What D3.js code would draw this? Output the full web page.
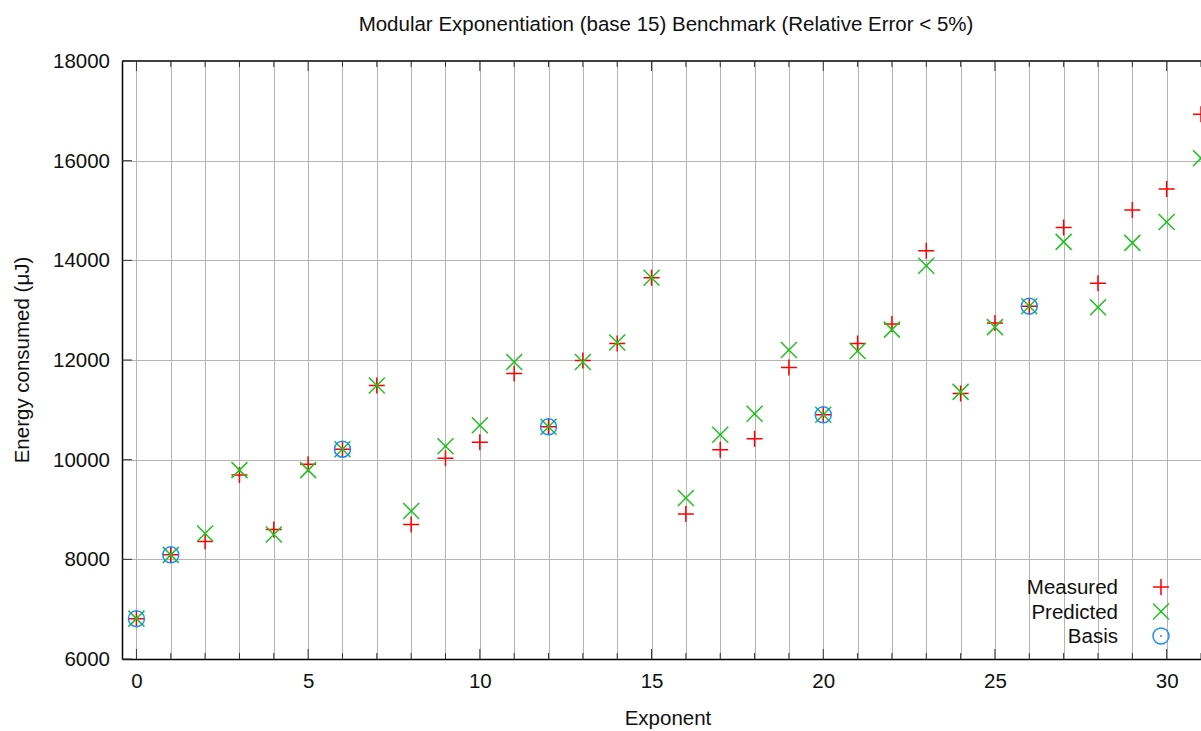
<!DOCTYPE html>
<html>
<head>
<meta charset="utf-8">
<script src="https://cdn.jsdelivr.net/npm/d3@7"></script>
<style>
  body { margin: 0; background: #fff; }
  svg { display: block; font-family: "Liberation Sans", Arial, sans-serif; }
</style>
</head>
<body>
<svg id="chart"></svg>
<script>
// values
var exponents = d3.range(0, 32);
var measured = [6810, 8090, 8360, 9690, 8600, 9910, 10210, 11490, 8700, 10030,
                10350, 11730, 10660, 11990, 12330, 13650, 8910, 10200, 10420, 11850,
                10900, 12330, 12720, 14190, 11330, 12740, 13080, 14660, 13540, 15010,
                15430, 16930];
var predicted = [6810, 8090, 8520, 9790, 8500, 9790, 10210, 11490, 8970, 10270,
                 10690, 11960, 10660, 11960, 12350, 13650, 9230, 10500, 10920, 12200,
                 10900, 12180, 12610, 13890, 11360, 12660, 13080, 14370, 13060, 14350,
                 14770, 16050];
var basisExp = [0, 1, 6, 12, 20, 26];
var yTicks = [6000, 8000, 10000, 12000, 14000, 16000, 18000];
var xTicks = [0, 5, 10, 15, 20, 25, 30];

var width = 1201, height = 731;
var margin = {top: 61, right: 0, bottom: 72, left: 122};
var fs = 20.5;

var svg = d3.select("#chart")
    .attr("width", width)
    .attr("height", height);

var x = d3.scaleLinear()
    .domain([-0.42, 31])
    .range([margin.left, width - margin.right]);

var y = d3.scaleLinear()
    .domain([6000, 18000])
    .range([height - margin.bottom, margin.top]);

var plot = svg.append("g");

// grid
plot.selectAll(".vgrid")
    .data(exponents).enter()
    .append("line")
    .attr("x1", function(d) { return Math.round(x(d)) + 0.5; })
    .attr("x2", function(d) { return Math.round(x(d)) + 0.5; })
    .attr("y1", y(6000))
    .attr("y2", y(18000))
    .attr("stroke", "#b4b4b4")
    .attr("stroke-width", 1);

plot.selectAll(".hgrid")
    .data(yTicks.slice(1, -1)).enter()
    .append("line")
    .attr("x1", x.range()[0])
    .attr("x2", x.range()[1])
    .attr("y1", function(d) { return Math.round(y(d)) + 0.5; })
    .attr("y2", function(d) { return Math.round(y(d)) + 0.5; })
    .attr("stroke", "#b4b4b4")
    .attr("stroke-width", 1);

// axes (gnuplot style: inward ticks)
var xAxisBottom = d3.axisBottom(x).tickValues(xTicks).tickSize(0).tickPadding(14)
    .tickFormat(d3.format("d"));
svg.append("g")
    .attr("transform", "translate(0," + y(6000) + ")")
    .call(xAxisBottom)
    .call(function(g) {
      g.select(".domain").attr("stroke", "#000").attr("stroke-width", 1.5);
      g.selectAll("text").attr("font-size", fs).attr("fill", "#111")
        .attr("font-family", "Liberation Sans, Arial, sans-serif");
    });

svg.append("line")
    .attr("x1", x.range()[0]).attr("x2", x.range()[1])
    .attr("y1", y(18000)).attr("y2", y(18000))
    .attr("stroke", "#000").attr("stroke-width", 1.5);

var yAxis = d3.axisLeft(y).tickValues(yTicks).tickSize(0).tickPadding(12)
    .tickFormat(d3.format("d"));
svg.append("g")
    .attr("transform", "translate(" + x.range()[0] + ",0)")
    .call(yAxis)
    .call(function(g) {
      g.select(".domain").attr("stroke", "#000").attr("stroke-width", 1.5);
      g.selectAll("text").attr("font-size", fs).attr("fill", "#111")
        .attr("font-family", "Liberation Sans, Arial, sans-serif");
    });

// tick marks
svg.selectAll(".xtick")
    .data(exponents).enter()
    .append("line")
    .attr("x1", function(d) { return x(d); })
    .attr("x2", function(d) { return x(d); })
    .attr("y1", y(6000))
    .attr("y2", function(d) { return y(6000) - (d % 5 === 0 ? 10 : 6); })
    .attr("stroke", "#333").attr("stroke-width", 1);
svg.selectAll(".xtick2")
    .data(exponents).enter()
    .append("line")
    .attr("x1", function(d) { return x(d); })
    .attr("x2", function(d) { return x(d); })
    .attr("y1", y(18000))
    .attr("y2", function(d) { return y(18000) + (d % 5 === 0 ? 10 : 6); })
    .attr("stroke", "#333").attr("stroke-width", 1);
svg.selectAll(".ytick")
    .data(yTicks).enter()
    .append("line")
    .attr("x1", x.range()[0])
    .attr("x2", x.range()[0] + 10)
    .attr("y1", function(d) { return y(d); })
    .attr("y2", function(d) { return y(d); })
    .attr("stroke", "#333").attr("stroke-width", 1);

// symbols
var red = "#ff0000", green = "#1fc21f", blue = "#1e8cff";
var s = 8;

function plus(g, cx, cy) {
  g.append("path")
    .attr("d", "M" + (cx - s) + "," + cy + "H" + (cx + s) + "M" + cx + "," + (cy - s) + "V" + (cy + s))
    .attr("stroke", red).attr("stroke-width", 1.5).attr("fill", "none");
}
function cross(g, cx, cy) {
  g.append("path")
    .attr("d", "M" + (cx - s) + "," + (cy - s) + "L" + (cx + s) + "," + (cy + s) +
               "M" + (cx - s) + "," + (cy + s) + "L" + (cx + s) + "," + (cy - s))
    .attr("stroke", green).attr("stroke-width", 1.5).attr("fill", "none");
  g.append("circle").attr("cx", cx).attr("cy", cy).attr("r", 1.2).attr("fill", green);
}
function ring(g, cx, cy) {
  g.append("circle").attr("cx", cx).attr("cy", cy).attr("r", s)
    .attr("stroke", blue).attr("stroke-width", 1.5).attr("fill", "none");
  g.append("circle").attr("cx", cx).attr("cy", cy).attr("r", 1).attr("fill", blue);
}

var marks = svg.append("g");
exponents.forEach(function(e, i) { plus(marks, x(e), y(measured[i])); });
exponents.forEach(function(e, i) { cross(marks, x(e), y(predicted[i])); });
basisExp.forEach(function(e) { ring(marks, x(e), y(measured[e])); });

// legend
var legendItems = [["Measured", plus], ["Predicted", cross], ["Basis", ring]];
var legend = svg.append("g");
legendItems.forEach(function(item, i) {
  var ly = 587 + i * 24.5;
  legend.append("text")
    .attr("x", 1118).attr("y", ly)
    .attr("dy", "0.35em")
    .attr("text-anchor", "end")
    .attr("font-size", fs).attr("fill", "#111")
    .text(item[0]);
  item[1](legend, 1161, ly);
});

// titles
svg.append("text")
    .attr("x", 666).attr("y", 31)
    .attr("text-anchor", "middle")
    .attr("font-size", fs).attr("fill", "#111")
    .text("Modular Exponentiation (base 15) Benchmark (Relative Error < 5%)");

svg.append("text")
    .attr("x", 668).attr("y", 725)
    .attr("text-anchor", "middle")
    .attr("font-size", fs).attr("fill", "#111")
    .text("Exponent");

svg.append("text")
    .attr("transform", "translate(29,360) rotate(-90)")
    .attr("text-anchor", "middle")
    .attr("font-size", fs).attr("fill", "#111")
    .text("Energy consumed (\u03bcJ)");
</script>
</body>
</html>
